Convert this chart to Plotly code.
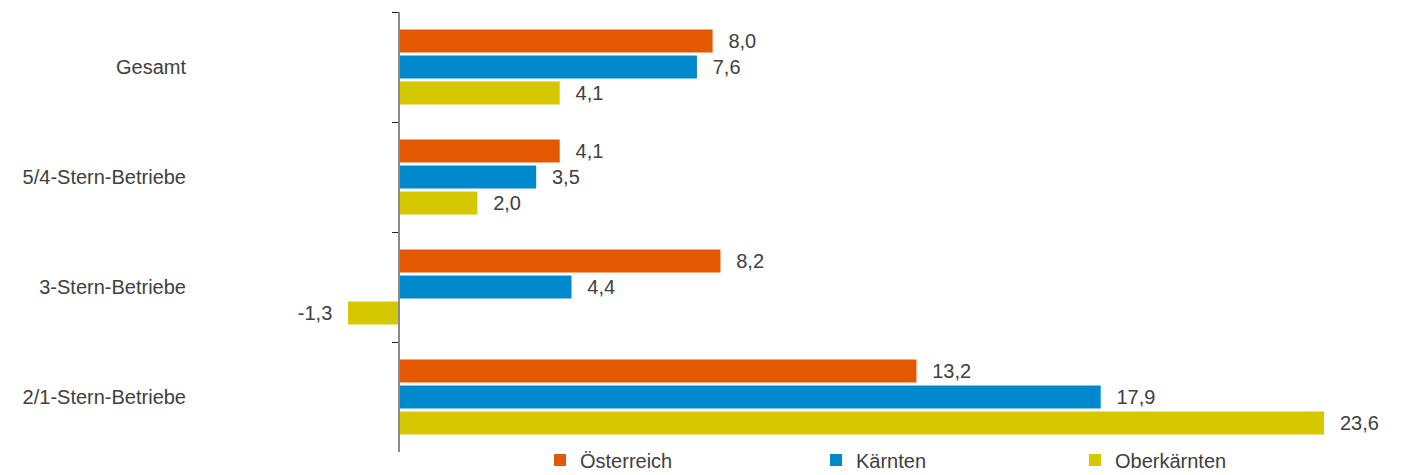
import plotly.graph_objects as go

categories = ["Gesamt", "5/4-Stern-Betriebe", "3-Stern-Betriebe", "2/1-Stern-Betriebe"]
series_names = ["Österreich", "Kärnten", "Oberkärnten"]
oesterreich = [8.0, 4.1, 8.2, 13.2]
kaernten = [7.6, 3.5, 4.4, 17.9]
oberkaernten = [4.1, 2.0, -1.3, 23.6]
series_values = [oesterreich, kaernten, oberkaernten]
colors = ["#E35800", "#0088CC", "#D6C800"]

# page is rendered with the browser's default 8px body margin
OFF = 8
W, H = 1401 - OFF, 475 - OFF
PLOT_L, PLOT_R, PLOT_T, PLOT_B = 203, 1379, 12, 452   # in page pixels
ML, MR = PLOT_L - OFF, (W + OFF) - PLOT_R
MT, MB = PLOT_T - OFF, (H + OFF) - PLOT_B
XMIN, XMAX = -5, 25
FONT = "Liberation Sans, Arial, sans-serif"
TXT = "#404040"

def fmt(v):
    s = f"{v:.1f}".replace(".", ",")
    pad = "\u00a0\u00a0\u200a"
    return pad + s if v >= 0 else s + pad

fig = go.Figure()
legend_ids = ["legend", "legend2", "legend3"]
for name, vals, col, lg in zip(series_names, series_values, colors, legend_ids):
    fig.add_trace(go.Bar(
        y=categories, x=vals, name=name, orientation="h",
        marker=dict(color=col, line=dict(width=0)),
        text=[fmt(v) for v in vals], textposition="outside",
        textfont=dict(family=FONT, size=20, color=TXT),
        constraintext="none", cliponaxis=False,
        legend=lg, hoverinfo="skip",
    ))

plot_w = PLOT_R - PLOT_L
plot_h = PLOT_B - PLOT_T
def px2paper_x(px):
    return (px - PLOT_L) / plot_w

legend_common = dict(orientation="h", yanchor="middle", y=-(460 - PLOT_B) / plot_h,
                     xanchor="left",
                     font=dict(family=FONT, size=20, color=TXT),
                     bgcolor="rgba(0,0,0,0)", borderwidth=0, itemwidth=30)
legend_px = [540, 816, 1075]

fig.update_layout(
    width=W, height=H,
    margin=dict(l=ML, r=MR, t=MT, b=MB, pad=0, autoexpand=False),
    paper_bgcolor="white", plot_bgcolor="white",
    barmode="group", bargap=0.29, bargroupgap=0.12,
    font=dict(family=FONT, size=20, color=TXT),
    showlegend=True,
    legend=dict(legend_common, x=px2paper_x(legend_px[0])),
    legend2=dict(legend_common, x=px2paper_x(legend_px[1])),
    legend3=dict(legend_common, x=px2paper_x(legend_px[2])),
    xaxis=dict(range=[XMIN, XMAX], visible=False, showgrid=False, zeroline=False),
    yaxis=dict(
        type="category", categoryorder="array", categoryarray=categories,
        autorange="reversed",
        anchor="free", position=-XMIN / (XMAX - XMIN),
        showline=True, linecolor="#8a8a8a", linewidth=2,
        ticks="outside", tickson="boundaries", ticklen=6, tickwidth=1, tickcolor="#222222",
        ticklabelstandoff=208,
        tickfont=dict(family=FONT, size=20, color=TXT),
        showgrid=False, zeroline=False,
    ),
)

fig.write_html("out.html")
